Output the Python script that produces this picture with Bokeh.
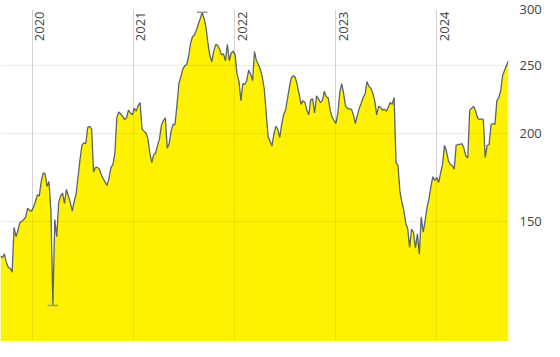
import math
import pandas as pd
from bokeh.plotting import figure
from bokeh.models import Range1d, FixedTicker, PrintfTickFormatter, Grid, ColumnDataSource
from bokeh.core.properties import value
from bokeh.embed import file_html
from bokeh.resources import INLINE

# weekly closes (start 2019-09-09)
start_date = "2019-09-09"
prices = [
    134.2, 133.4, 135.1, 131.4, 129.3, 128.9, 127.3, 147.3, 142.9, 145.9,
    149.7, 150.3, 151.1, 152.4, 156.8, 155.8, 155.3, 157.3, 160.3, 163.8,
    163.3, 171.1, 176.0, 175.4, 168.4, 171.1, 155.8, 114.2, 151.1, 142.9,
    159.8, 163.3, 164.8, 159.3, 166.8, 163.3, 159.9, 155.3, 160.3, 164.3,
    173.8, 183.8, 192.7, 194.1, 193.7, 204.2, 204.8, 203.0, 176.5, 179.2,
    179.2, 178.1, 174.9, 172.7, 170.6, 169.0, 173.3, 179.2, 180.9, 187.8,
    210.7, 214.7, 213.3, 211.6, 209.4, 210.7, 216.0, 214.0, 212.7, 217.3,
    215.3, 219.4, 221.4, 203.0, 201.7, 200.5, 196.8, 187.8, 182.0, 186.6,
    187.8, 192.5, 196.8, 205.5, 208.8, 210.7, 190.7, 193.7, 201.7, 206.1,
    206.1, 219.4, 235.6, 240.8, 246.9, 249.6, 250.7, 257.1, 268.5, 274.4,
    276.1, 280.4, 285.7, 291.1, 297.2, 291.1, 283.0, 268.5, 257.9, 253.0,
    261.9, 267.7, 266.8, 263.5, 258.7, 259.5, 253.8, 267.7, 253.8, 260.3,
    261.9, 258.7, 243.1, 237.1, 222.8, 235.6, 234.9, 237.8, 246.1, 243.1,
    237.8, 261.5, 253.8, 250.7, 246.9, 240.8, 232.0, 214.7, 198.2, 195.0,
    192.1, 199.8, 204.8, 203.0, 197.4, 206.1, 212.7, 216.0, 224.1, 232.7,
    240.1, 241.6, 240.4, 234.9, 227.7, 220.1, 222.8, 221.4, 216.0, 212.7,
    223.5, 224.1, 214.0, 226.3, 224.1, 221.4, 222.8, 229.8, 225.6, 224.9,
    216.0, 211.1, 208.8, 206.8, 214.0, 229.1, 235.6, 227.7, 218.7, 217.3,
    216.7, 216.7, 212.7, 206.8, 212.0, 217.3, 220.8, 224.9, 227.7, 237.1,
    233.4, 232.0, 228.4, 222.8, 212.7, 218.7, 218.0, 216.0, 216.7, 215.3,
    218.0, 221.4, 220.1, 225.1, 182.0, 180.3, 165.8, 159.9, 155.8, 149.3,
    146.8, 138.0, 146.4, 145.0, 137.6, 144.2, 135.1, 152.4, 145.0, 150.6,
    157.3, 161.8, 168.4, 173.8, 171.7, 173.3, 170.6, 176.0, 180.9, 192.5,
    188.9, 183.1, 180.9, 180.3, 178.1, 192.5, 193.1, 193.1, 193.7, 190.7,
    186.0, 184.9, 216.0, 217.3, 218.7, 215.3, 210.7, 209.4, 210.0, 209.4,
    184.9, 192.5, 193.1, 206.1, 206.8, 206.1, 222.8, 224.9, 230.5, 242.3,
    246.1, 250.0, 253.8,
]
year_labels = ["2020", "2021", "2022", "2023", "2024"]
year_starts = ["2020-01-01", "2021-01-01", "2022-01-01", "2023-01-01", "2024-01-01"]
y_ticks = [150, 200, 250, 300]
y_min, y_max = 101.5, 300

dates = pd.date_range(start_date, periods=len(prices), freq="7D")
src = ColumnDataSource(dict(x=dates, y=prices, base=[50] * len(prices)))

p = figure(width=544, height=341, x_axis_type="datetime", y_axis_type="log",
           x_axis_location=None, y_axis_location="right",
           x_range=Range1d(dates[0], dates[-1]), y_range=Range1d(y_min, y_max),
           toolbar_location=None, output_backend="svg",
           min_border_left=0, min_border_top=9, min_border_bottom=0, min_border_right=0)
p.outline_line_color = None
p.background_fill_color = "white"

p.varea(x="x", y1="base", y2="y", source=src, fill_color="#fff200")
p.line(x="x", y="y", source=src, line_color="#5a6370", line_width=1.3)

# min / max markers
i_max = max(range(len(prices)), key=lambda i: prices[i])
i_min = min(range(len(prices)), key=lambda i: prices[i])
half = pd.Timedelta(days=19)
p.segment(x0=[dates[i_max] - half, dates[i_min] - half],
          x1=[dates[i_max] + half, dates[i_min] + half],
          y0=[prices[i_max], prices[i_min]], y1=[prices[i_max], prices[i_min]],
          line_color="#999999", line_width=1.5)

# grids
yt = FixedTicker(ticks=y_ticks)
p.yaxis.ticker = yt
p.ygrid.ticker = yt
p.ygrid.grid_line_color = "black"
p.ygrid.grid_line_alpha = 0.08
p.ygrid.level = "overlay"
xt = FixedTicker(ticks=[pd.Timestamp(d).value / 1e6 for d in year_starts])
xg = Grid(dimension=0, ticker=xt, grid_line_color="black", grid_line_alpha=0.08, level="overlay")
p.add_layout(xg)

ax = p.yaxis[0]
ax.formatter = PrintfTickFormatter(format="%d")
ax.axis_line_color = None
ax.major_tick_line_color = None
ax.minor_tick_line_color = None
ax.major_label_standoff = 5
ax.major_label_text_font = "Open Sans"
ax.major_label_text_font_size = "13px"
ax.major_label_text_color = "#444444"

p.text(x=[pd.Timestamp(d) for d in year_starts], y=[y_max] * len(year_labels), text=year_labels,
       angle=math.pi / 2, text_align="right", text_baseline="top",
       x_offset=3, y_offset=2, text_font=value("Open Sans"), text_font_size="13px",
       text_color="#444444")

open("out.html", "w").write(file_html(p, INLINE))
